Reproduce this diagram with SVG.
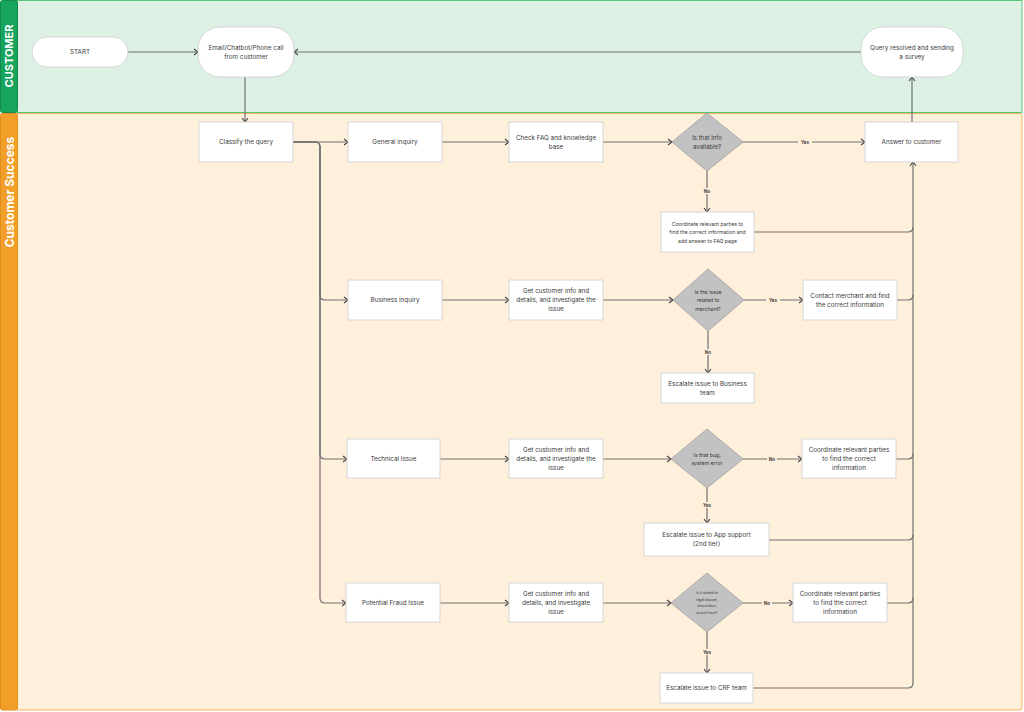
<svg xmlns="http://www.w3.org/2000/svg" width="1024" height="712" viewBox="0 0 1024 712">
<defs>
<marker id="arr" viewBox="0 0 8 8" refX="7" refY="4" markerWidth="8" markerHeight="8" markerUnits="userSpaceOnUse" orient="auto">
<path d="M3,1 L7,4 L3,7" fill="none" stroke="#444" stroke-width="1.1"/>
</marker>
<style>
.lh{font-family:Inter,"Liberation Sans",sans-serif;font-weight:700;fill:#fff;}
.n{fill:#fff;stroke:#d6d6d6;stroke-width:1;}
.d{fill:#c2c2c2;stroke:#aaa;stroke-width:1;}
.t{font-family:Inter,"Liberation Sans",sans-serif;font-size:6.3px;fill:#3a3a3a;text-anchor:middle;dominant-baseline:central;}
.s6{font-size:6px;}
.s5{font-size:5.1px;}
.s48{font-size:5.2px;}
.s33{font-size:3.4px;}
.c{fill:none;stroke:#707070;stroke-width:1.2;marker-end:url(#arr);}
.cn{fill:none;stroke:#707070;stroke-width:1.2;}
.lb{font-family:Inter,"Liberation Sans",sans-serif;font-size:4.6px;font-weight:700;fill:#444;text-anchor:middle;dominant-baseline:central;}
</style>
</defs>
<g id="lanes">
<rect x="16" y="0.5" width="1006" height="112" fill="#dcf1e4" stroke="#5cc67a" stroke-width="1"/>
<rect x="0.5" y="0.5" width="17" height="112" rx="2" fill="#17a45c" stroke="#128a4b" stroke-width="1"/>
<text class="lh" font-size="11" transform="translate(13,56) rotate(-90)" text-anchor="middle">CUSTOMER</text>
<rect x="16" y="113.5" width="1006" height="596.5" rx="2" fill="#fff0dc" stroke="#f5b45c" stroke-width="1"/>
<line x1="16" y1="112.5" x2="1022" y2="112.5" stroke="#5cc67a" stroke-width="1"/>
<rect x="0.5" y="113.5" width="17" height="596.5" rx="2" fill="#f29f2a" stroke="#e08e1e" stroke-width="1"/>
<text class="lh" font-size="12" transform="translate(13.5,192) rotate(-90)" text-anchor="middle">Customer Success</text>
</g>
<g id="connectors">
<path class="c" d="M128,52 H198"/>
<path class="c" d="M861,52 H294"/>
<path class="c" d="M245,77 V122"/>
<path class="c" d="M912,122 V77"/>
<path class="c" d="M293,142 H348"/>
<path class="c" d="M293,142 H315 Q320,142 320,147 V295 Q320,300 325,300 H348"/>
<path class="c" d="M293,142 H315 Q320,142 320,147 V454 Q320,459 325,459 H347"/>
<path class="c" d="M293,142 H315 Q320,142 320,147 V598 Q320,603 325,603 H346"/>
<path class="c" d="M442,142 H509"/>
<path class="c" d="M603,142 H672"/>
<path class="c" d="M743,142 H865"/>
<path class="c" d="M707,171 V212"/>
<path class="c" d="M442,300 H509"/>
<path class="c" d="M603,300 H673"/>
<path class="c" d="M744,300 H803"/>
<path class="c" d="M708,331 V373"/>
<path class="c" d="M440,459 H509"/>
<path class="c" d="M603,459 H671"/>
<path class="c" d="M743,459 H802"/>
<path class="c" d="M707,488 V523"/>
<path class="c" d="M440,603 H509"/>
<path class="c" d="M603,603 H671"/>
<path class="c" d="M743,603 H793"/>
<path class="c" d="M707,632 V673"/>
<path class="cn" d="M754,232 H908 Q913,232 913,227"/>
<path class="cn" d="M897,300 H908 Q913,300 913,295"/>
<path class="cn" d="M896,459 H908 Q913,459 913,454"/>
<path class="cn" d="M769,540 H908 Q913,540 913,535"/>
<path class="cn" d="M887,603 H908 Q913,603 913,598"/>
<path class="c" d="M753,688 H908 Q913,688 913,683 V162"/>
<rect x="798" y="139" width="14" height="6" fill="#fff0dc"/>
<text class="lb" x="805" y="142">Yes</text>
<rect x="702" y="188" width="10" height="6" fill="#fff0dc"/>
<text class="lb" x="707" y="191">No</text>
<rect x="766" y="297" width="14" height="6" fill="#fff0dc"/>
<text class="lb" x="773" y="300">Yes</text>
<rect x="703" y="349" width="10" height="6" fill="#fff0dc"/>
<text class="lb" x="708" y="352">No</text>
<rect x="767" y="456" width="10" height="6" fill="#fff0dc"/>
<text class="lb" x="772" y="459">No</text>
<rect x="700" y="502" width="14" height="6" fill="#fff0dc"/>
<text class="lb" x="707" y="505">Yes</text>
<rect x="762" y="600" width="10" height="6" fill="#fff0dc"/>
<text class="lb" x="767" y="603">No</text>
<rect x="700" y="649" width="14" height="6" fill="#fff0dc"/>
<text class="lb" x="707" y="652">Yes</text>
</g>
<g id="start"><rect class="n" x="32" y="37" width="96" height="30" rx="15"/><text class="t" x="80" y="52">START</text></g>
<g id="contact"><rect class="n" x="198" y="27" width="96" height="50" rx="22"/><text class="t" x="246" y="47.5">Email/Chatbot/Phone call</text><text class="t" x="246" y="56.5">from customer</text></g>
<g id="resolved"><rect class="n" x="861" y="27" width="102" height="50" rx="22"/><text class="t" x="912" y="47.5">Query resolved and sending</text><text class="t" x="912" y="56.5">a survey</text></g>
<g id="classify"><rect class="n" x="199" y="122" width="94" height="40"/><text class="t" x="246" y="142">Classify the query</text></g>
<g id="general"><rect class="n" x="348" y="122" width="94" height="40"/><text class="t" x="395" y="142">General inquiry</text></g>
<g id="checkfaq"><rect class="n" x="509" y="122" width="94" height="40"/><text class="t" x="556" y="137.5">Check FAQ and knowledge</text><text class="t" x="556" y="146.5">base</text></g>
<g id="dec1"><polygon class="d" points="707,113 743,142 707,171 672,142"/><text class="t s6" x="707" y="137.5">Is that info</text><text class="t s6" x="707" y="146.5">available?</text></g>
<g id="answer"><rect class="n" x="865" y="122" width="93" height="40"/><text class="t" x="911.5" y="142">Answer to customer</text></g>
<g id="coordfaq"><rect class="n" x="661" y="212" width="93" height="40"/><text class="t s5" x="707.5" y="223.5">Coordinate relevant parties to</text><text class="t s5" x="707.5" y="232">find the correct information and</text><text class="t s5" x="707.5" y="240.5">add answer to FAQ page</text></g>
<g id="business"><rect class="n" x="348" y="280" width="94" height="40"/><text class="t" x="395" y="300">Business inquiry</text></g>
<g id="getinfo1"><rect class="n" x="509" y="280" width="94" height="40"/><text class="t" x="556" y="291">Get customer info and</text><text class="t" x="556" y="300">details, and investigate the</text><text class="t" x="556" y="309">issue</text></g>
<g id="dec2"><polygon class="d" points="708,269 744,300 708,331 673,300"/><text class="t s5" x="708" y="291.5">Is the issue</text><text class="t s5" x="708" y="300">related to</text><text class="t s5" x="708" y="308.5">merchant?</text></g>
<g id="merchant"><rect class="n" x="803" y="280" width="94" height="40"/><text class="t" x="850" y="295.5">Contact merchant and find</text><text class="t" x="850" y="304.5">the correct information</text></g>
<g id="escbiz"><rect class="n" x="661" y="373" width="93" height="30"/><text class="t" x="707.5" y="383.5">Escalate issue to Business</text><text class="t" x="707.5" y="392.5">team</text></g>
<g id="technical"><rect class="n" x="347" y="439" width="93" height="39"/><text class="t" x="393.5" y="459">Technical Issue</text></g>
<g id="getinfo2"><rect class="n" x="509" y="439" width="94" height="39"/><text class="t" x="556" y="450">Get customer info and</text><text class="t" x="556" y="459">details, and investigate the</text><text class="t" x="556" y="468">issue</text></g>
<g id="dec3"><polygon class="d" points="707,429 743,459 707,488 671,459"/><text class="t s48" x="707" y="454.5">Is that bug,</text><text class="t s48" x="707" y="463">system error</text></g>
<g id="coordtech"><rect class="n" x="802" y="439" width="94" height="39"/><text class="t" x="849" y="450">Coordinate relevant parties</text><text class="t" x="849" y="459">to find the correct</text><text class="t" x="849" y="468">information</text></g>
<g id="escapp"><rect class="n" x="644" y="523" width="125" height="33"/><text class="t" x="706.5" y="535">Escalate issue to App support</text><text class="t" x="706.5" y="544">(2nd tier)</text></g>
<g id="fraud"><rect class="n" x="346" y="583" width="94" height="39"/><text class="t" x="393" y="603">Potential Fraud Issue</text></g>
<g id="getinfo3"><rect class="n" x="509" y="583" width="94" height="39"/><text class="t" x="556" y="594">Get customer info and</text><text class="t" x="556" y="603">details, and investigate</text><text class="t" x="556" y="612">issue</text></g>
<g id="dec4"><polygon class="d" points="707,573 743,603 707,632 671,603"/><text class="t s33" x="707" y="593">Is it related to</text><text class="t s33" x="707" y="599.5">legal dispute,</text><text class="t s33" x="707" y="606">misconduct,</text><text class="t s33" x="707" y="612.5">actual fraud?</text></g>
<g id="coordfraud"><rect class="n" x="793" y="583" width="94" height="39"/><text class="t" x="840" y="594">Coordinate relevant parties</text><text class="t" x="840" y="603">to find the correct</text><text class="t" x="840" y="612">information</text></g>
<g id="esccrf"><rect class="n" x="660" y="673" width="93" height="30"/><text class="t" x="706.5" y="688">Escalate issue to CRF team</text></g>
</svg>
